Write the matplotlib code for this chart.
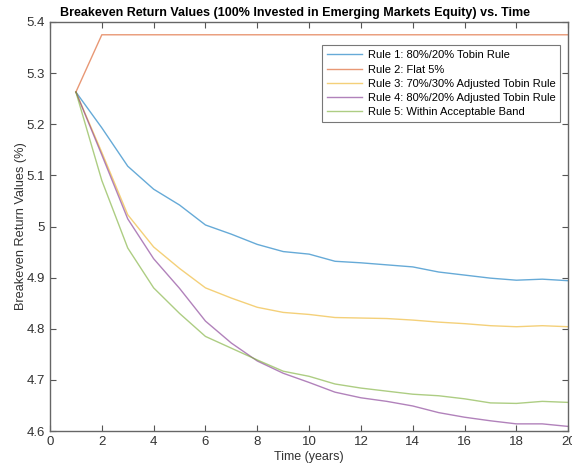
import numpy as np
import matplotlib
matplotlib.use("Agg")
import matplotlib.pyplot as plt
from matplotlib.ticker import FuncFormatter

# Time axis (years)
years = np.arange(1, 21)

# Breakeven return values (%) per rule
rule1 = [5.263, 5.193, 5.118, 5.073, 5.042, 5.003, 4.985, 4.965, 4.951, 4.946,
         4.932, 4.929, 4.925, 4.921, 4.911, 4.905, 4.899, 4.895, 4.897, 4.894]
rule2 = [5.263] + [5.375] * 19
rule3 = [5.263, 5.145, 5.023, 4.960, 4.918, 4.880, 4.860, 4.842, 4.832, 4.828,
         4.822, 4.821, 4.820, 4.817, 4.813, 4.810, 4.806, 4.804, 4.806, 4.804]
rule4 = [5.263, 5.140, 5.015, 4.937, 4.879, 4.815, 4.772, 4.737, 4.713, 4.695,
         4.676, 4.665, 4.658, 4.649, 4.636, 4.627, 4.620, 4.614, 4.614, 4.609]
rule5 = [5.263, 5.090, 4.958, 4.880, 4.830, 4.785, 4.762, 4.739, 4.717, 4.707,
         4.692, 4.684, 4.678, 4.672, 4.669, 4.663, 4.655, 4.654, 4.658, 4.656]

labels = ["Rule 1: 80%/20% Tobin Rule",
          "Rule 2: Flat 5%",
          "Rule 3: 70%/30% Adjusted Tobin Rule",
          "Rule 4: 80%/20% Adjusted Tobin Rule",
          "Rule 5: Within Acceptable Band"]
colors = ["#0072BD", "#D95319", "#EDB120", "#7E2F8E", "#77AC30"]

plt.rcParams["font.family"] = ["Liberation Sans", "DejaVu Sans"]

fig = plt.figure(figsize=(5.72, 4.68), dpi=100)
ax = fig.add_axes([0.0874, 0.079, 0.906, 0.874])

for vals, lab, c in zip([rule1, rule2, rule3, rule4, rule5], labels, colors):
    ax.plot(years, vals, color=c, lw=1.0, alpha=0.6, label=lab)

ax.set_xlim(0, 20)
ax.set_ylim(4.6, 5.4)
ax.set_xticks(np.arange(0, 21, 2))
ax.set_yticks(np.arange(4.6, 5.41, 0.1))
ax.yaxis.set_major_formatter(FuncFormatter(lambda v, p: f"{v:.1f}".rstrip("0").rstrip(".")))
ax.tick_params(direction="in", top=True, right=True, labelsize=9.5,
               color="#555555", labelcolor="#333333", length=4)
for s in ax.spines.values():
    s.set_color("#666666")
    s.set_linewidth(1.0)

ax.set_xlabel("Time (years)", fontsize=9, color="#333333", labelpad=2)
ax.set_ylabel("Breakeven Return Values (%)", fontsize=9.2, color="#333333", labelpad=0)
ax.set_title("Breakeven Return Values (100% Invested in Emerging Markets Equity) vs. Time",
             fontsize=9, fontweight="bold", pad=4, x=0.473)

leg = ax.legend(loc="upper right", bbox_to_anchor=(0.985, 0.943), fontsize=8,
                frameon=True, fancybox=False, handlelength=3.2, borderpad=0.45,
                labelspacing=0.38, handletextpad=0.5, borderaxespad=0)
leg.get_frame().set_edgecolor("#555555")
leg.get_frame().set_linewidth(0.8)

fig.savefig("out.png", dpi=100)
